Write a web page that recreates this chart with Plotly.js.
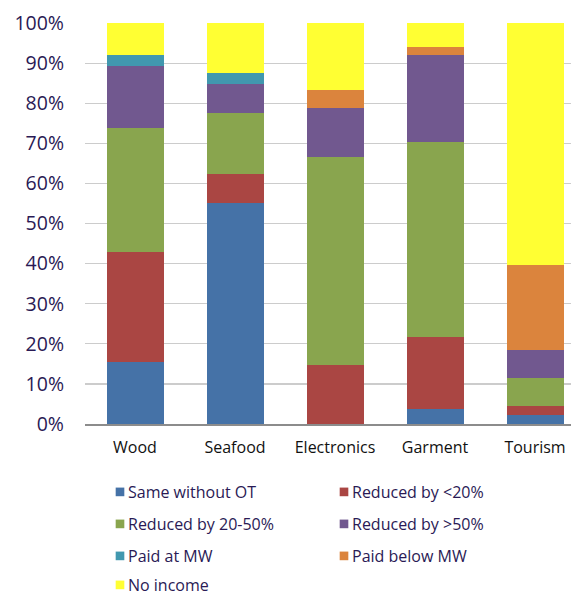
<!DOCTYPE html>
<html>
<head>
<meta charset="utf-8">
<script src="https://cdn.plot.ly/plotly-3.0.1.min.js"></script>
<style>
html, body { margin: 0; padding: 0; overflow: hidden; background: #fff; }
#chart { width: 600px; height: 594px; }
g.legendpoints path { transform-box: fill-box; transform-origin: center; transform: translateX(32px) scale(0.72); }
</style>
</head>
<body>
<div id="chart"></div>
<script>
var categories = ["Wood", "Seafood", "Electronics", "Garment", "Tourism"];
var seriesNames = ["Same without OT", "Reduced by <20%", "Reduced by 20-50%", "Reduced by >50%", "Paid at MW", "Paid below MW", "No income"];
var sameWithoutOT   = [15.5, 55.1, 0.0, 3.8, 2.3];
var reducedLt20     = [27.5, 7.3, 14.7, 17.9, 2.3];
var reduced20to50   = [30.8, 15.1, 51.8, 48.7, 6.9];
var reducedGt50     = [15.5, 7.4, 12.4, 21.7, 7.0];
var paidAtMW        = [2.8, 2.6, 0.0, 0.0, 0.0];
var paidBelowMW     = [0.0, 0.0, 4.5, 1.8, 21.2];
var noIncome        = [7.9, 12.5, 16.6, 6.1, 60.3];
var yTicks = [0, 10, 20, 30, 40, 50, 60, 70, 80, 90, 100];
var yTickLabels = ["0%", "10%", "20%", "30%", "40%", "50%", "60%", "70%", "80%", "90%", "100%"];

var seriesValues = [sameWithoutOT, reducedLt20, reduced20to50, reducedGt50, paidAtMW, paidBelowMW, noIncome];
var colors = ["#4572A7", "#AA4643", "#89A54E", "#71588F", "#4198AF", "#DB843D", "#FFFF33"];
var legendIds = ["legend", "legend", "legend2", "legend2", "legend3", "legend3", "legend4"];

var traces = seriesNames.map(function (name, i) {
  return {
    type: "bar",
    name: name,
    x: categories,
    y: seriesValues[i],
    legend: legendIds[i],
    marker: { color: colors[i], line: { width: 0 } },
    hoverinfo: "x+y+name"
  };
});

var textColor = "#2a1a55";
var fontFam = "Open Sans, Noto Sans, sans-serif";
function makeLegend(rowCenterPx) {
  return {
    orientation: "h",
    xref: "paper",
    x: 0.006,
    xanchor: "left",
    yref: "container",
    y: (594 - (rowCenterPx - 17)) / 594,
    yanchor: "top",
    entrywidth: 179,
    entrywidthmode: "pixels",
    traceorder: "normal",
    font: { family: fontFam, size: 16, color: textColor },
    bgcolor: "rgba(0,0,0,0)",
    borderwidth: 0
  };
}

var layout = {
  width: 600,
  height: 594,
  barmode: "stack",
  bargap: 0.43,
  margin: { l: 85, r: 15, t: 23, b: 170, autoexpand: false },
  paper_bgcolor: "#ffffff",
  plot_bgcolor: "#ffffff",
  font: { family: fontFam, size: 16, color: textColor },
  showlegend: true,
  legend: makeLegend(492),
  legend2: makeLegend(524),
  legend3: makeLegend(556),
  legend4: makeLegend(585),
  xaxis: {
    type: "category",
    tickfont: { family: fontFam, size: 16, color: "#111111" },
    showline: true,
    linecolor: "#8c8c8c",
    linewidth: 2,
    ticks: "",
    ticklabelstandoff: 8,
    showgrid: false,
    zeroline: false,
    automargin: false,
    fixedrange: true
  },
  yaxis: {
    range: [0, 100],
    tickmode: "array",
    tickvals: yTicks,
    ticktext: yTickLabels,
    tickfont: { family: fontFam, size: 19.5, color: textColor },
    showgrid: true,
    gridcolor: "#cccccc",
    gridwidth: 1.2,
    zeroline: false,
    showline: false,
    ticks: "",
    ticklabelstandoff: 20,
    automargin: false,
    fixedrange: true
  }
};

Plotly.newPlot("chart", traces, layout, { displayModeBar: false, staticPlot: true });
</script>
</body>
</html>
